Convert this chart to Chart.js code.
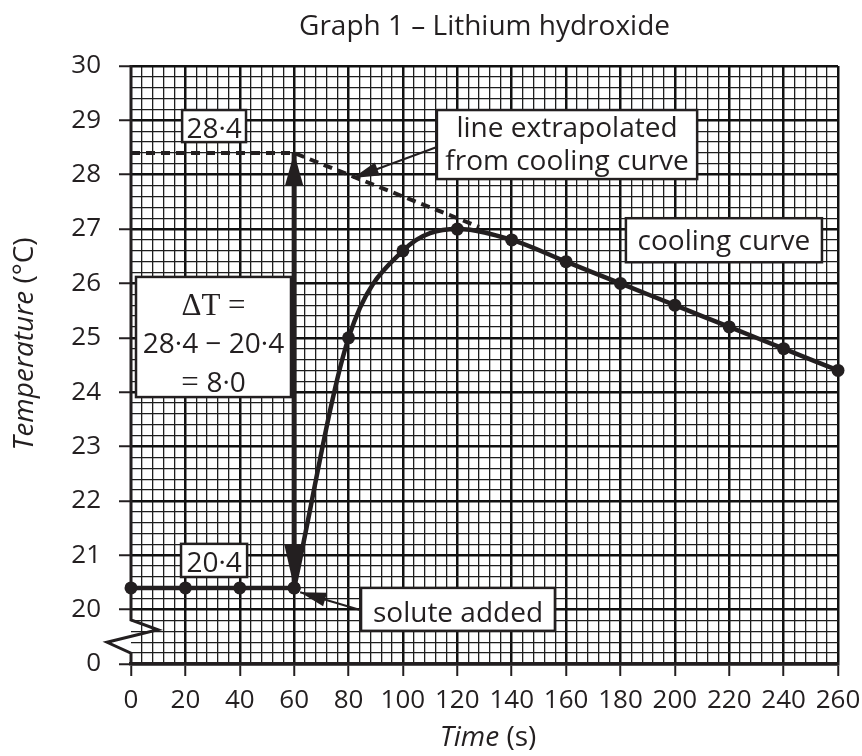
<!DOCTYPE html>
<html>
<head>
<meta charset="utf-8">
<script src="https://cdn.jsdelivr.net/npm/chart.js@4.4.0/dist/chart.umd.min.js"></script>
<style>
html, body { margin: 0; padding: 0; background: #fff; }
</style>
</head>
<body>
<canvas id="graph1" width="862" height="756"></canvas>
<script>
// values
var timeFlat = [0, 20, 40, 60];
var tempFlat = [20.4, 20.4, 20.4, 20.4];
var timeCurve = [60, 80, 100, 120, 140, 160, 180, 200, 220, 240, 260];
var tempCurve = [20.4, 25.0, 26.6, 27.0, 26.8, 26.4, 26.0, 25.6, 25.2, 24.8, 24.4];
// cooling line carried back to the time of mixing
var timeExtrap = [0, 60, 128];
var tempExtrap = [28.4, 28.4, 27.04];
// delta T arrow
var timeDelta = [60, 60];
var tempDelta = [20.4, 28.4];

var xTickValues = [0, 20, 40, 60, 80, 100, 120, 140, 160, 180, 200, 220, 240, 260];
var xTickLabels = ["0", "20", "40", "60", "80", "100", "120", "140", "160", "180", "200", "220", "240", "260"];
var yTickValues = [19, 20, 21, 22, 23, 24, 25, 26, 27, 28, 29, 30];
var yTickLabels = ["0", "20", "21", "22", "23", "24", "25", "26", "27", "28", "29", "30"];

var ink = "#231f20";
var sans = "'Open Sans', sans-serif";
var serif = "'Liberation Serif', 'DejaVu Serif', serif";

function toXY(xs, ys){
    var out = [];
    for (let i = 0; i < xs.length; i++){
        out.push({x: xs[i], y: ys[i]});
    }
    return out;
}

function lookup(v, values, labels){
    var r = Math.round(v * 1000) / 1000;
    var i = values.indexOf(r);
    return i >= 0 ? labels[i] : "";
}

function isMajor(v, step){
    return Math.abs(v / step - Math.round(v / step)) < 1e-6;
}

// text helpers
function drawRuns(ctx, runs, cx, baseline){
    var total = 0;
    runs.forEach(function(r){ ctx.font = r.font; total += ctx.measureText(r.text).width; });
    var x = cx - total / 2;
    ctx.textBaseline = "alphabetic";
    ctx.textAlign = "left";
    runs.forEach(function(r){
        ctx.font = r.font;
        ctx.fillText(r.text, x, baseline);
        x += ctx.measureText(r.text).width;
    });
}

function arrowHead(ctx, tx, ty, fx, fy, len, half){
    var a = Math.atan2(ty - fy, tx - fx);
    var bx = tx - Math.cos(a) * len, by = ty - Math.sin(a) * len;
    ctx.beginPath();
    ctx.moveTo(tx, ty);
    ctx.lineTo(bx + Math.sin(a) * half, by - Math.cos(a) * half);
    ctx.lineTo(bx - Math.sin(a) * half, by + Math.cos(a) * half);
    ctx.closePath();
    ctx.fill();
}

// labelled boxes, corners in data units, text baselines in px from the box top
var notes = [
    {box: [18.8, 29.19, 42.3, 28.60], lines: [{dy: 28, runs: [{text: "28·4", font: "28px " + sans}]}]},
    {box: [18.4, 21.21, 42.7, 20.60], lines: [{dy: 28, runs: [{text: "20·4", font: "28px " + sans}]}]},
    {box: [1.84, 26.12, 58.84, 23.91], lines: [
        {dy: 38, runs: [{text: "ΔT =", font: "31px " + serif}]},
        {dy: 76, runs: [{text: "28·4 − 20·4", font: "28px " + sans}]},
        {dy: 115, runs: [{text: "= ", font: "31px " + serif}, {text: "8·0", font: "28px " + sans}]}
    ]},
    {box: [112.5, 29.19, 208.2, 27.92], lines: [
        {dy: 27, runs: [{text: "line extrapolated", font: "28px " + sans}]},
        {dy: 60, runs: [{text: "from cooling curve", font: "28px " + sans}]}
    ]},
    {box: [182.0, 27.20, 254.1, 26.39], lines: [{dy: 32, runs: [{text: "cooling curve", font: "28px " + sans}]}]},
    {box: [84.6, 20.40, 155.9, 19.61], lines: [{dy: 34, runs: [{text: "solute added", font: "28px " + sans}]}]}
];
var pointers = [
    {from: [112.5, 28.51], to: [81.6, 27.94]},
    {from: [84.6, 19.99], to: [62.2, 20.32]}
];
// y axis with the broken section between 0 and 20
var axisBreak = [[0, 30], [0, 19.81], [9.9, 19.63], [-8.8, 19.40], [0, 19.2], [0, 19]];

var notesPlugin = {
    id: "notes",
    beforeDatasetsDraw: function(chart){
        var ctx = chart.ctx, xs = chart.scales.x, ys = chart.scales.y;
        ctx.save();
        ctx.strokeStyle = ink;
        ctx.lineWidth = 3;
        ctx.beginPath();
        axisBreak.forEach(function(p, i){
            var px = xs.getPixelForValue(p[0]), py = ys.getPixelForValue(p[1]);
            if (i == 0) ctx.moveTo(px, py - 1); else ctx.lineTo(px, py);
        });
        ctx.stroke();
        ctx.restore();
    },
    afterDatasetsDraw: function(chart){
        var ctx = chart.ctx, xs = chart.scales.x, ys = chart.scales.y;
        ctx.save();
        ctx.fillStyle = ink;
        ctx.strokeStyle = ink;
        // heads of the delta T arrow
        var ax = xs.getPixelForValue(timeDelta[0]);
        var yTop = ys.getPixelForValue(tempDelta[1]), yBot = ys.getPixelForValue(tempDelta[0]);
        arrowHead(ctx, ax, yTop, ax, yTop + 50, 32, 9);
        arrowHead(ctx, ax, yBot, ax, yBot - 50, 44, 10);
        // pointer arrows
        ctx.lineWidth = 2;
        pointers.forEach(function(p){
            var fx = xs.getPixelForValue(p.from[0]), fy = ys.getPixelForValue(p.from[1]);
            var tx = xs.getPixelForValue(p.to[0]), ty = ys.getPixelForValue(p.to[1]);
            ctx.beginPath();
            ctx.moveTo(fx, fy);
            ctx.lineTo(tx, ty);
            ctx.stroke();
            arrowHead(ctx, tx, ty, fx, fy, 26, 7);
        });
        // boxes
        notes.forEach(function(n){
            var x1 = xs.getPixelForValue(n.box[0]), y1 = ys.getPixelForValue(n.box[1]);
            var x2 = xs.getPixelForValue(n.box[2]), y2 = ys.getPixelForValue(n.box[3]);
            ctx.fillStyle = "#fff";
            ctx.fillRect(x1, y1, x2 - x1, y2 - y1);
            ctx.lineWidth = 2.5;
            ctx.strokeStyle = ink;
            ctx.strokeRect(x1, y1, x2 - x1, y2 - y1);
            ctx.fillStyle = ink;
            n.lines.forEach(function(l){
                drawRuns(ctx, l.runs, (x1 + x2) / 2, y1 + l.dy);
            });
        });
        ctx.restore();
    },
    afterDraw: function(chart){
        var ctx = chart.ctx;
        ctx.save();
        ctx.fillStyle = ink;
        drawRuns(ctx, [{text: "Time", font: "italic 28px " + sans}, {text: " (s)", font: "28px " + sans}], 488, 746);
        ctx.translate(33, 344);
        ctx.rotate(-Math.PI / 2);
        drawRuns(ctx, [{text: "Temperature", font: "italic 28px " + sans}, {text: " (°C)", font: "28px " + sans}], 0, 0);
        ctx.restore();
    }
};

function gridColor(step, hideZero){
    return function(c){
        var v = c.tick.value;
        if (hideZero && v == 0) return "rgba(0,0,0,0)";
        return isMajor(v, step) ? "#111111" : "#1e1e1e";
    };
}
function gridWidth(step){
    return function(c){ return isMajor(c.tick.value, step) ? 2.5 : 1.3; };
}
function tickColor(step){
    return function(c){ return isMajor(c.tick.value, step) ? ink : "rgba(0,0,0,0)"; };
}
function noPadding(s){
    s.paddingLeft = 0; s.paddingRight = 0; s.paddingTop = 0; s.paddingBottom = 0;
}

function init(){
    Chart.defaults.font.family = sans;
    Chart.defaults.color = ink;
    var pointStyle = {pointRadius: 6.5, pointHoverRadius: 6.5, pointBackgroundColor: ink, pointBorderWidth: 0};
    new Chart("graph1", {
        type: "line",
        data: {
            datasets: [
                Object.assign({data: toXY(timeFlat, tempFlat), borderColor: ink, borderWidth: 4.5, tension: 0, clip: false}, pointStyle),
                Object.assign({data: toXY(timeCurve, tempCurve), borderColor: ink, borderWidth: 4.5, cubicInterpolationMode: "monotone", clip: false}, pointStyle),
                {data: toXY(timeExtrap, tempExtrap), borderColor: ink, borderWidth: 4, borderDash: [9, 6], pointRadius: 0, tension: 0},
                {data: toXY(timeDelta, tempDelta), borderColor: ink, borderWidth: 5, pointRadius: 0, tension: 0}
            ]
        },
        options: {
            responsive: false,
            animation: false,
            events: [],
            layout: {padding: {left: 0, right: 24, top: 0, bottom: 0}},
            plugins: {
                legend: {display: false},
                tooltip: {enabled: false},
                title: {
                    display: true,
                    text: "Graph 1 – Lithium hydroxide",
                    fullSize: false,
                    color: ink,
                    font: {size: 28, weight: "normal", family: sans},
                    padding: {top: 10, bottom: 22.4}
                }
            },
            scales: {
                x: {
                    type: "linear",
                    min: 0,
                    max: 260,
                    afterFit: function(s){ s.height = 92; noPadding(s); },
                    ticks: {
                        stepSize: 4,
                        maxTicksLimit: 200,
                        autoSkip: false,
                        maxRotation: 0,
                        minRotation: 0,
                        padding: 9,
                        color: ink,
                        font: {size: 26},
                        callback: function(v){ return lookup(v, xTickValues, xTickLabels); }
                    },
                    grid: {
                        color: gridColor(20, true),
                        lineWidth: gridWidth(20),
                        tickColor: tickColor(20),
                        tickLength: 12,
                        tickWidth: 2
                    },
                    border: {display: true, color: ink, width: 3.5}
                },
                y: {
                    type: "linear",
                    min: 19,
                    max: 30,
                    afterFit: function(s){ s.width = 131; noPadding(s); },
                    ticks: {
                        stepSize: 0.2,
                        maxTicksLimit: 200,
                        autoSkip: false,
                        padding: 18,
                        color: ink,
                        font: {size: 26},
                        callback: function(v){ return lookup(v, yTickValues, yTickLabels); }
                    },
                    grid: {
                        color: gridColor(1, false),
                        lineWidth: gridWidth(1),
                        tickColor: tickColor(1),
                        tickLength: 12,
                        tickWidth: 2
                    },
                    border: {display: false}
                }
            }
        },
        plugins: [notesPlugin]
    });
}

if (document.fonts && document.fonts.load){
    Promise.all([
        document.fonts.load("28px 'Open Sans'"),
        document.fonts.load("italic 28px 'Open Sans'"),
        document.fonts.load("31px 'Liberation Serif'")
    ]).then(init, init);
} else {
    init();
}
</script>
</body>
</html>
